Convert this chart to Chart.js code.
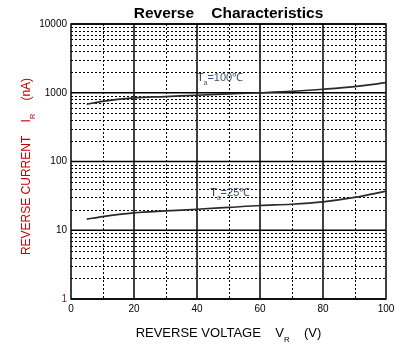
<!DOCTYPE html>
<html><head><meta charset="utf-8">
<script src="https://cdn.jsdelivr.net/npm/chart.js@4.4.0/dist/chart.umd.min.js"></script>
<style>html,body{margin:0;padding:0;background:#fff;overflow:hidden}#wrap{width:411px;height:351px}</style>
</head><body><div id="wrap"><canvas id="c" width="411" height="351"></canvas></div>
<script>
// ---- data ----
const voltage = [5, 10, 20, 30, 40, 50, 60, 70, 80, 90, 100];
const current100 = [680, 750, 840, 880, 920, 965, 1000, 1045, 1125, 1230, 1400];
const current25 = [14.5, 15.8, 17.9, 19.1, 20.2, 21.5, 22.9, 23.9, 25.9, 30, 37];
const seriesTemps = ['100℃', '25℃'];
const xTickValues = [0, 20, 40, 60, 80, 100];
const xGridValues = [10, 20, 30, 40, 50, 60, 70, 80, 90];
const yTickValues = [1, 10, 100, 1000, 10000];
const chartTitle = 'Reverse    Characteristics';
const xTitle = ['REVERSE VOLTAGE    V', 'R', '    (V)'];
const yTitle = ['REVERSE CURRENT    I', 'R', '    (nA)'];

const FONT = '"Liberation Sans", Arial, sans-serif';
const labelAnchors = [{x: 40, y: 1500}, {x: 44.2, y: 32}];

function richWidth(ctx, parts, size) {
  let w = 0;
  parts.forEach((t, i) => {
    ctx.font = (i === 1 ? size * 0.6 : size) + 'px ' + FONT;
    w += ctx.measureText(t).width;
  });
  return w;
}
function drawRich(ctx, parts, x, y, size, colors) {
  ctx.textAlign = 'left';
  ctx.textBaseline = 'alphabetic';
  parts.forEach((t, i) => {
    const sub = i === 1;
    ctx.font = (sub ? size * 0.6 : size) + 'px ' + FONT;
    ctx.fillStyle = Array.isArray(colors) ? colors[i] : colors;
    ctx.fillText(t, x, y + (sub ? size * 0.38 : 0));
    x += ctx.measureText(t).width;
  });
}

const gridPlugin = {
  id: 'gridPlugin',
  beforeDatasetsDraw(chart) {
    const {ctx, chartArea: a, scales: {x, y}} = chart;
    ctx.save();
    ctx.strokeStyle = '#000';
    ctx.lineWidth = 1;
    ctx.setLineDash([2, 2]);
    xGridValues.forEach(v => {
      if (v % 20 === 0) return;
      const px = Math.round(x.getPixelForValue(v)) + 0.5;
      ctx.beginPath(); ctx.moveTo(px, a.top); ctx.lineTo(px, a.bottom); ctx.stroke();
    });
    for (let d = 1; d < 10000; d *= 10) {
      for (let k = 2; k <= 9; k++) {
        const py = Math.round(y.getPixelForValue(k * d)) + 0.5;
        ctx.beginPath(); ctx.moveTo(a.left, py); ctx.lineTo(a.right, py); ctx.stroke();
      }
    }
    ctx.setLineDash([]);
    ctx.lineWidth = 1.5;
    xGridValues.forEach(v => {
      if (v % 20 !== 0) return;
      const px = x.getPixelForValue(v);
      ctx.beginPath(); ctx.moveTo(px, a.top); ctx.lineTo(px, a.bottom); ctx.stroke();
    });
    yTickValues.forEach(v => {
      const py = y.getPixelForValue(v);
      ctx.beginPath(); ctx.moveTo(a.left, py); ctx.lineTo(a.right, py); ctx.stroke();
    });
    ctx.strokeRect(a.left, a.top, a.right - a.left, a.bottom - a.top);
    ctx.restore();
  },
  afterDatasetsDraw(chart) {
    const {ctx, chartArea: a, scales: {x, y}} = chart;
    ctx.save();
    ctx.font = 'bold 15.5px ' + FONT;
    ctx.fillStyle = '#000';
    ctx.textAlign = 'center';
    ctx.textBaseline = 'alphabetic';
    ctx.fillText(chartTitle, (a.left + a.right) / 2, 17.5);
    const cx = (a.left + a.right) / 2;
    const wx = richWidth(ctx, xTitle, 13);
    drawRich(ctx, xTitle, cx - wx / 2, 337, 13, '#000');
    const cy = (a.top + a.bottom) / 2 + 5;
    const wy = richWidth(ctx, yTitle, 12);
    ctx.save();
    ctx.translate(30, cy);
    ctx.rotate(-Math.PI / 2);
    drawRich(ctx, yTitle, -wy / 2, 0, 12, '#c00000');
    ctx.restore();
    seriesTemps.forEach((t, i) => {
      const px = x.getPixelForValue(labelAnchors[i].x);
      const py = y.getPixelForValue(labelAnchors[i].y);
      drawRich(ctx, ['T', 'a', '=' + t], px, py, 11, ['#1e2a48', '#3d5278', '#3d5278']);
    });
    ctx.restore();
  }
};

new Chart(document.getElementById('c'), {
  type: 'line',
  data: {
    labels: voltage,
    datasets: [
      {label: 'Ta=' + seriesTemps[0], data: voltage.map((v, i) => ({x: v, y: current100[i]}))},
      {label: 'Ta=' + seriesTemps[1], data: voltage.map((v, i) => ({x: v, y: current25[i]}))}
    ].map(d => Object.assign(d, {
      borderColor: '#2a2a2a', borderWidth: 1.7, pointRadius: 0,
      cubicInterpolationMode: 'monotone', fill: false
    }))
  },
  options: {
    responsive: false,
    animation: false,
    devicePixelRatio: 1,
    layout: {padding: {left: 0, right: 25, top: 24, bottom: 0}},
    plugins: {legend: {display: false}, title: {display: false}, tooltip: {enabled: false}},
    scales: {
      x: {
        type: 'linear', min: 0, max: 100,
        afterBuildTicks: s => { s.ticks = xTickValues.map(v => ({value: v})); },
        afterFit: s => { s.height = 52; },
        grid: {display: false, drawTicks: false},
        border: {display: false},
        ticks: {padding: 4, color: '#000', font: {size: 10, family: FONT}, callback: v => String(v), maxRotation: 0}
      },
      y: {
        type: 'logarithmic', min: 1, max: 10000,
        afterBuildTicks: s => { s.ticks = yTickValues.map(v => ({value: v})); },
        afterFit: s => { s.width = 71; },
        grid: {display: false, drawTicks: false},
        border: {display: false},
        ticks: {padding: 4, font: {size: 10, family: FONT}, callback: v => String(v),
          color: c => (c.tick && c.tick.value === 1 ? '#6a1f5e' : '#000')}
      }
    }
  },
  plugins: [gridPlugin]
});
</script></body></html>
